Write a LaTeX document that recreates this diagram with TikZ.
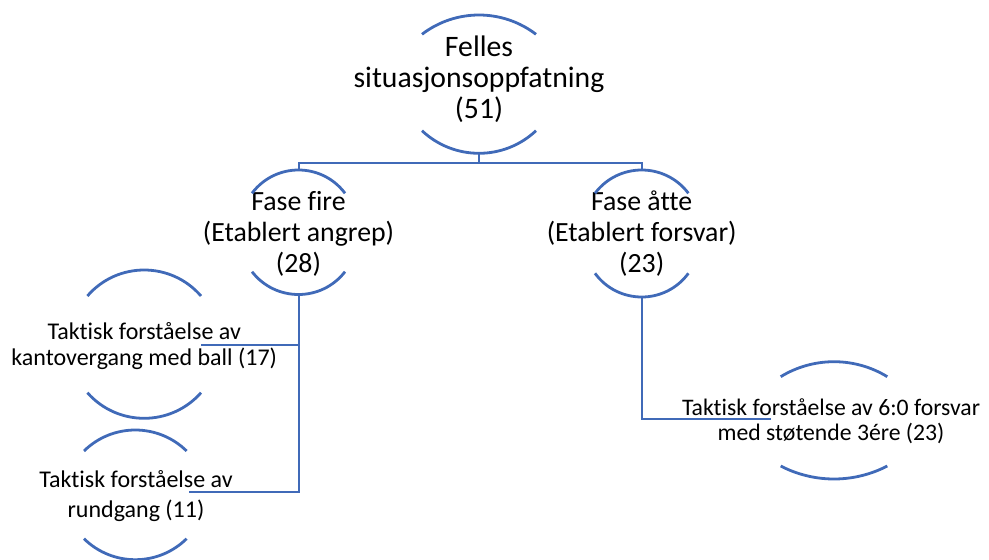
\documentclass[tikz,border=0pt]{standalone}
\usepackage{fontspec}
\setmainfont[Ligatures=NoCommon]{Carlito}
\definecolor{linkblue}{RGB}{64,106,184}

% Two facing arcs around a label: centre x, half chord,
% upper arc end y, upper arc apex y, lower arc end y, lower arc apex y
\newcommand\ringarcs[6]{%
  \pgfmathsetmacro\ringsT{#3-#4}%
  \pgfmathsetmacro\ringaT{2*(#2*#2-\ringsT*\ringsT)/(3*#2)}%
  \pgfmathsetmacro\ringsB{#6-#5}%
  \pgfmathsetmacro\ringaB{2*(#2*#2-\ringsB*\ringsB)/(3*#2)}%
  \draw[arcline] (#1-#2,#3) .. controls ({#1-#2+\ringaT},{#3-4*\ringsT/3})
      and ({#1+#2-\ringaT},{#3-4*\ringsT/3}) .. (#1+#2,#3);
  \draw[arcline] (#1-#2,#5) .. controls ({#1-#2+\ringaB},{#5+4*\ringsB/3})
      and ({#1+#2-\ringaB},{#5+4*\ringsB/3}) .. (#1+#2,#5);
}

\tikzset{
  arcline/.style={draw=linkblue, line width=2.8pt},
  conn/.style={draw=linkblue, line width=2pt},
  % anchored at the baseline of the last line
  label/.style={anchor=base, align=center, inner sep=0pt, text=black},
  rootfont/.style={font=\fontsize{29.7}{31}\selectfont},
  phasefont/.style={font=\fontsize{27.8}{31}\selectfont},
}

\begin{document}
\begin{tikzpicture}[x=1pt,y=-1pt]
\useasboundingbox (0,0) rectangle (989,560);

% labels
\node[label, rootfont] (root) at (479,118) {Felles\\situasjonsoppfatning\\(51)};
\node[label, phasefont] (fire) at (298.5,272.5) {Fase fire\\(Etablert angrep)\\(28)};
\node[label, phasefont] (atte) at (641.7,272) {Fase åtte\\(Etablert forsvar)\\(23)};
\node[label, font=\fontsize{24}{26}\selectfont] (kant) at (144.2,365) {Taktisk forståelse av\\kantovergang med ball (17)};
\node[label, font=\fontsize{24}{30}\selectfont] (rund) at (136,517) {Taktisk forståelse av\\rundgang (11)};
\node[label, font=\fontsize{23.7}{25}\selectfont] (sekso) at (831,440) {Taktisk forståelse av 6:0 forsvar\\med støtende 3ére (23)};

% arcs around each label
\ringarcs{479}{57}{34.3}{15}{130.7}{153.3}
\ringarcs{298.5}{46.5}{193.3}{170}{271.7}{294.5}
\ringarcs{641.7}{46.7}{193.3}{170}{273.3}{297}
\ringarcs{144.2}{56.8}{296}{270}{392.7}{418.3}
\ringarcs{135.3}{51.3}{451}{430}{538.7}{559.7}
\ringarcs{834}{53.3}{376.7}{361.7}{466}{479}

% connector end points
\coordinate (rootB) at (479,153.3);
\coordinate (bus) at (479,163);
\coordinate (fireT) at (298.5,170);
\coordinate (fireB) at (298.5,294.5);
\coordinate (atteT) at (641.7,170);
\coordinate (atteB) at (641.7,297);
\coordinate (kantR) at (201,345);
\coordinate (rundR) at (189,492);
\coordinate (seksoL) at (771,419);

% connectors
\draw[conn] (rootB) -- (bus);
\draw[conn] (fireT) |- (bus) -| (atteT);
\draw[conn] (fireB) |- (rundR);
\draw[conn] (kantR) -- (kantR -| fireB);
\draw[conn] (atteB) |- (seksoL);
\end{tikzpicture}
\end{document}
